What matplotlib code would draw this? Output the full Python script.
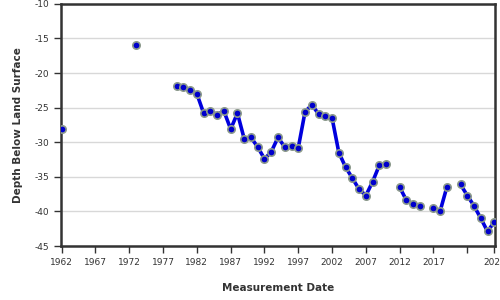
import numpy as np
import matplotlib
matplotlib.use('Agg')
import matplotlib.pyplot as plt

plt.rcParams['axes.unicode_minus'] = False

years = [1962, 1973, 1979, 1980, 1981, 1982, 1983, 1984, 1985, 1986, 1987,
         1988, 1989, 1990, 1991, 1992, 1993, 1994, 1995, 1996, 1997, 1998,
         1999, 2000, 2001, 2002, 2003, 2004, 2005, 2006, 2007, 2008, 2009,
         2010, 2012, 2013, 2014, 2015, 2017, 2018, 2019, 2021, 2022, 2023,
         2024, 2025, 2026]
depth = [-28.1, -16.0, -21.9, -22.0, -22.4, -23.0, -25.8, -25.5, -26.0, -25.5,
         -28.1, -25.8, -29.5, -29.3, -30.7, -32.4, -31.4, -29.3, -30.7, -30.5,
         -30.8, -25.6, -24.6, -25.9, -26.2, -26.5, -31.5, -33.6, -35.2, -36.8,
         -37.7, -35.7, -33.3, -33.2, -36.5, -38.4, -38.9, -39.2, -39.5, -39.9,
         -36.4, -36.1, -37.7, -39.2, -41.0, -42.9, -41.5]
xticks = [1962, 1967, 1972, 1977, 1982, 1987, 1992, 1997, 2002, 2007, 2012,
          2017, 2022, 2026]
xticklabels = ['1962', '1967', '1972', '1977', '1982', '1987', '1992', '1997',
               '2002', '2007', '2012', '2017', '', '2026']

x = np.array(years, dtype=float)
y = np.array(depth)

fig = plt.figure(figsize=(5, 3), dpi=100)
ax = fig.add_axes([0.122, 0.18, 0.868, 0.807])

# split line where a year is missing
breaks = np.where(np.diff(x) > 1)[0] + 1
for xs, ys in zip(np.split(x, breaks), np.split(y, breaks)):
    ax.plot(xs, ys, color='#0000dd', lw=2.6, zorder=2, solid_capstyle='round')
ax.plot(x, y, 'o', ms=5.3, mfc='#0000cc', mec='#8c9a8c', mew=1.2, zorder=3)

ax.set_xlim(1961.9, 2026.1)
ax.set_ylim(-45, -10)
ax.set_yticks(np.arange(-45, -9, 5))
ax.set_xticks(xticks)
ax.set_xticklabels(xticklabels)
ax.yaxis.grid(True, color='#d8d8d8', lw=1)
ax.set_axisbelow(True)
for s in ax.spines.values():
    s.set_color('#333333')
    s.set_linewidth(1.8)
ax.tick_params(colors='#333333', labelsize=6.5, length=5, width=1)

ax.set_xlabel('Measurement Date', fontsize=7.5, fontweight='bold', color='#333333', labelpad=12)
ax.set_ylabel('Depth Below Land Surface', fontsize=7.5, fontweight='bold', color='#333333', labelpad=8)

fig.savefig('out.png', dpi=100)
